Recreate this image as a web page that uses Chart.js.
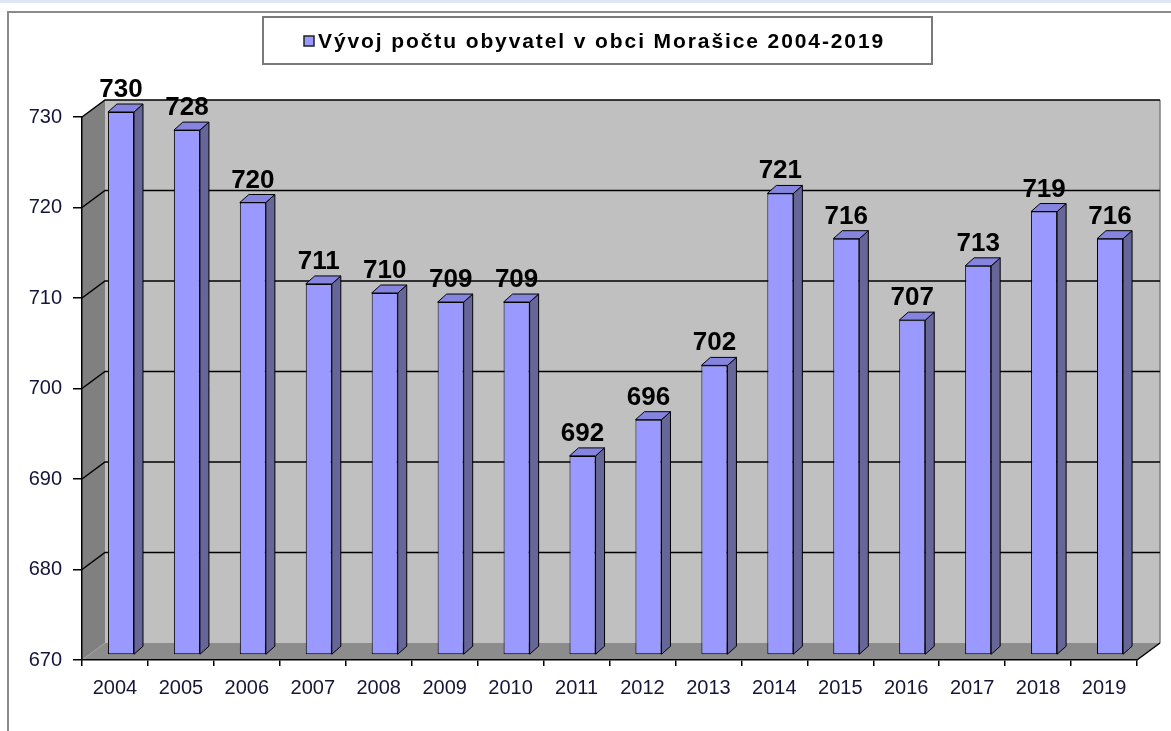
<!DOCTYPE html>
<html>
<head>
<meta charset="utf-8">
<script src="https://cdn.jsdelivr.net/npm/chart.js@4/dist/chart.umd.min.js"></script>
<style>
  html, body { margin: 0; padding: 0; background: #ffffff; }
  #wrap { width: 1171px; height: 731px; position: relative; }
</style>
</head>
<body>
<div id="wrap"><canvas id="c" width="1171" height="731"></canvas></div>
<script>
const categories = ['2004','2005','2006','2007','2008','2009','2010','2011','2012','2013','2014','2015','2016','2017','2018','2019'];
const population = [730, 728, 720, 711, 710, 709, 709, 692, 696, 702, 721, 716, 707, 713, 719, 716];
const seriesLabel = 'Vývoj počtu obyvatel v obci Morašice 2004-2019';
const yMin = 670;
const yMax = 730;
const yStep = 10;

const WALL_DX = 23, WALL_DY = -17;   // depth of back wall
const BAR_OX = 6, BAR_OY = -5;       // bar position inside depth
const BAR_DX = 9, BAR_DY = -8;       // bar depth

const threeD = {
  id: 'threeD',
  beforeDraw(chart) {
    const ctx = chart.ctx;
    const a = chart.chartArea;
    const ys = chart.scales.y;
    ctx.save();
    ctx.fillStyle = '#ffffff';
    ctx.fillRect(0, 0, chart.width, chart.height);
    ctx.fillStyle = '#dde7f3';
    ctx.fillRect(0, 0, chart.width, 3);
    ctx.strokeStyle = '#8a8a8a';
    ctx.lineWidth = 2;
    ctx.beginPath();
    ctx.moveTo(8, chart.height);
    ctx.lineTo(8, 12);
    ctx.lineTo(chart.width, 12);
    ctx.stroke();

    const L = a.left, R = a.right, T = a.top, B = a.bottom;
    ctx.fillStyle = '#c0c0c0';
    ctx.fillRect(L + WALL_DX, T + WALL_DY, R - L, B - T);
    ctx.strokeStyle = '#808080';
    ctx.lineWidth = 1.5;
    ctx.beginPath();
    ctx.moveTo(R + WALL_DX, T + WALL_DY);
    ctx.lineTo(R + WALL_DX, B + WALL_DY);
    ctx.stroke();
    ctx.fillStyle = '#808080';
    ctx.beginPath();
    ctx.moveTo(L, T); ctx.lineTo(L + WALL_DX, T + WALL_DY);
    ctx.lineTo(L + WALL_DX, B + WALL_DY); ctx.lineTo(L, B);
    ctx.closePath(); ctx.fill();
    ctx.fillStyle = '#8c8c8c';
    ctx.beginPath();
    ctx.moveTo(L, B); ctx.lineTo(R, B);
    ctx.lineTo(R + WALL_DX, B + WALL_DY); ctx.lineTo(L + WALL_DX, B + WALL_DY);
    ctx.closePath(); ctx.fill();
    ctx.strokeStyle = '#a0a0a0';
    ctx.lineWidth = 1;
    ctx.beginPath();
    ctx.moveTo(L, B); ctx.lineTo(L + WALL_DX, B + WALL_DY);
    ctx.stroke();
    ctx.strokeStyle = '#000000';
    ctx.lineWidth = 1.5;
    for (let v = yMin + yStep; v <= yMax; v += yStep) {
      const y = ys.getPixelForValue(v);
      ctx.beginPath();
      ctx.moveTo(L, y);
      ctx.lineTo(L + WALL_DX, y + WALL_DY);
      ctx.lineTo(R + WALL_DX, y + WALL_DY);
      ctx.stroke();
    }
    ctx.beginPath();
    ctx.moveTo(R, B); ctx.lineTo(R + WALL_DX, B + WALL_DY);
    ctx.stroke();
    ctx.restore();
  },
  beforeDatasetsDraw(chart) {
    chart.ctx.save();
    chart.ctx.translate(BAR_OX, BAR_OY);
  },
  afterDatasetsDraw(chart) {
    const ctx = chart.ctx;
    const meta = chart.getDatasetMeta(0);
    ctx.lineWidth = 1;
    ctx.strokeStyle = '#000000';
    meta.data.forEach((bar, i) => {
      const p = bar.getProps(['x', 'y', 'base', 'width'], true);
      const l = p.x - p.width / 2, r = p.x + p.width / 2;
      const t = p.y, b = p.base;
      ctx.fillStyle = '#666699';
      ctx.beginPath();
      ctx.moveTo(r, t); ctx.lineTo(r + BAR_DX, t + BAR_DY);
      ctx.lineTo(r + BAR_DX, b + BAR_DY); ctx.lineTo(r, b);
      ctx.closePath(); ctx.fill(); ctx.stroke();
      ctx.fillStyle = '#8585e0';
      ctx.beginPath();
      ctx.moveTo(l, t); ctx.lineTo(l + BAR_DX, t + BAR_DY);
      ctx.lineTo(r + BAR_DX, t + BAR_DY); ctx.lineTo(r, t);
      ctx.closePath(); ctx.fill(); ctx.stroke();
      ctx.fillStyle = '#000000';
      ctx.font = 'bold 26px "Liberation Sans", Arial, sans-serif';
      ctx.textAlign = 'center';
      ctx.textBaseline = 'alphabetic';
      ctx.fillText(String(population[i]), p.x, t - 15);
    });
    ctx.restore();
  },
  afterDraw(chart) {
    const ctx = chart.ctx;
    ctx.save();
    ctx.fillStyle = '#ffffff';
    ctx.fillRect(263, 17, 669, 47);
    ctx.strokeStyle = '#7a7a7a';
    ctx.lineWidth = 2;
    ctx.strokeRect(263, 17, 669, 47);
    ctx.fillStyle = '#9999ff';
    ctx.fillRect(304, 36, 10, 10);
    ctx.strokeStyle = '#222222';
    ctx.lineWidth = 1.5;
    ctx.strokeRect(304, 36, 10, 10);
    ctx.fillStyle = '#000000';
    ctx.font = 'bold 21px "Liberation Sans", Arial, sans-serif';
    ctx.textAlign = 'left';
    ctx.textBaseline = 'middle';
    try { ctx.letterSpacing = '1.9px'; } catch (e) {}
    ctx.fillText(seriesLabel, 318, 42);
    ctx.restore();
  }
};

new Chart(document.getElementById('c'), {
  type: 'bar',
  data: {
    labels: categories,
    datasets: [{
      label: seriesLabel,
      data: population,
      base: yMin,
      backgroundColor: '#9999ff',
      borderColor: '#000000',
      borderWidth: 1,
      borderSkipped: false,
      categoryPercentage: 1.0,
      barPercentage: 0.395,
      clip: false
    }]
  },
  options: {
    responsive: false,
    animation: false,
    events: [],
    layout: { padding: { top: 117, right: 34, left: 0, bottom: 0 } },
    plugins: {
      legend: { display: false },
      title: { display: false },
      tooltip: { enabled: false }
    },
    scales: {
      x: {
        afterFit(scale) { scale.height = 71; },
        grid: { display: true, drawOnChartArea: false, drawTicks: true, tickLength: 6, color: '#000000', lineWidth: 1.5, offset: true },
        border: { display: true, color: '#000000', width: 1.5 },
        ticks: { color: '#15153a', font: { family: '"Liberation Sans", Arial, sans-serif', size: 20 }, padding: 10, maxRotation: 0 }
      },
      y: {
        min: yMin,
        max: yMax,
        afterFit(scale) { scale.width = 82; },
        grid: { display: true, drawOnChartArea: false, drawTicks: true, tickLength: 9, color: '#000000', lineWidth: 1.5 },
        border: { display: true, color: '#000000', width: 1.5 },
        ticks: { stepSize: yStep, color: '#15153a', font: { family: '"Liberation Sans", Arial, sans-serif', size: 20 }, padding: 11 }
      }
    }
  },
  plugins: [threeD]
});
</script>
</body>
</html>
